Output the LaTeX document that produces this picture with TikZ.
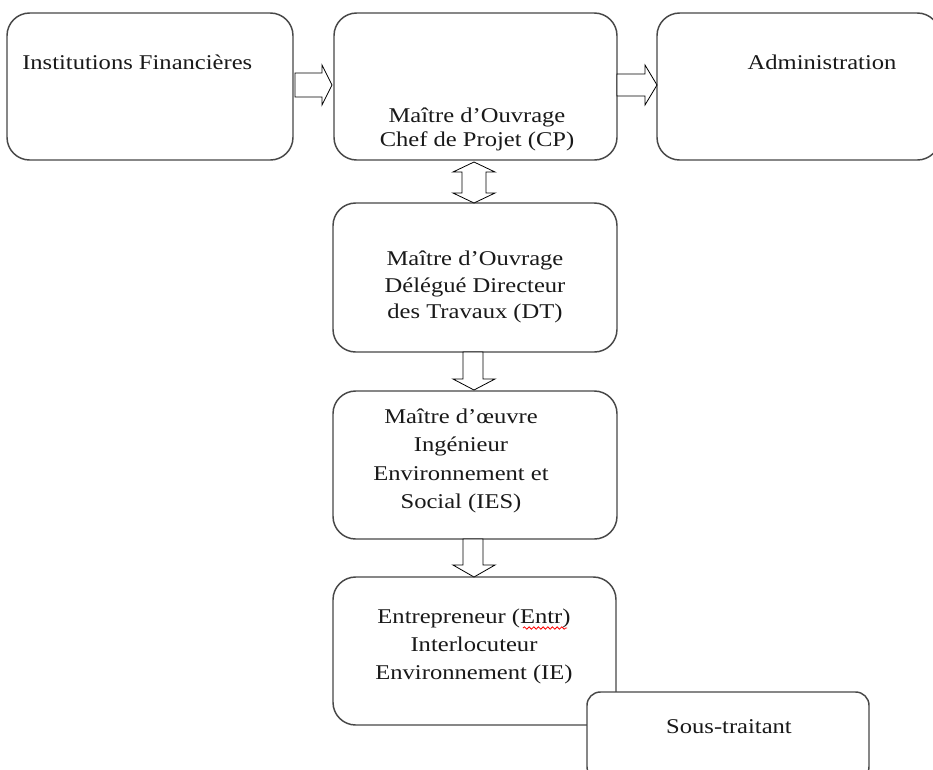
\documentclass[tikz,border=0pt]{standalone}
\usepackage{fontspec}
\newfontfamily\wf[FakeStretch=1.17]{Liberation Serif}
\usetikzlibrary{decorations.pathmorphing}
\begin{document}
\begin{tikzpicture}[x=0.75pt,y=-0.75pt,
  box/.style={draw=black!72, line width=1.1pt, rounded corners=17pt, fill=white, inner sep=0pt},
  sbox/.style={draw=black!72, line width=1.1pt, rounded corners=10pt, fill=white, inner sep=0pt},
  lbl/.style={font=\wf\fontsize{15.75}{20}\selectfont, text=black!90, align=center, inner sep=0pt},
  blk/.style={draw=black, line width=0.6pt, fill=white, line join=miter}]
\useasboundingbox (0,0) rectangle (933,769);
\clip (0,0) rectangle (933,769);
% boxes
\node[box, minimum width=214.5pt, minimum height=110.25pt] (b1) at (150,86.5) {};
\node[box, minimum width=212.25pt, minimum height=110.25pt] (b2) at (475.5,86.5) {};
\node[box, minimum width=212.25pt, minimum height=110.25pt] (b3) at (798.5,86.5) {};
\node[box, minimum width=213pt, minimum height=111.75pt] (dt) at (475,277.5) {};
\node[box, minimum width=213pt, minimum height=111pt] (ies) at (475,465) {};
\node[box, minimum width=212.25pt, minimum height=111pt] (entr) at (474.5,651) {};
\node[sbox, minimum width=211.5pt, minimum height=66pt] (st) at (728,736) {};
% texts
\node[lbl, anchor=west] (t1) at (22,62) {Institutions Financières};
\node[lbl] (t3) at (822,62) {Administration};
\node[lbl, font=\wf\fontsize{15.75}{18}\selectfont] (t2) at (477,129) {Maître d’Ouvrage\\Chef de Projet (CP)};
\node[lbl] (tdt) at (475,287) {Maître d’Ouvrage\\Délégué Directeur\\des Travaux (DT)};
\node[lbl, font=\wf\fontsize{15.75}{21.2}\selectfont] (ties) at (461,461) {Maître d’œuvre\\Ingénieur\\Environnement et\\Social (IES)};
\node[lbl, font=\wf\fontsize{15.75}{21}\selectfont] (tentr) at (474,646) {Entrepreneur (Entr)\\Interlocuteur\\Environnement (IE)};
\node[lbl] (tst) at (729,727) {Sous-traitant};
\draw[red, line width=0.6pt, decorate, decoration={snake, amplitude=0.9pt, segment length=3.5pt}] (523,628) -- (567,628);
% block arrows
\draw[blk] (295,73) -- (322,73) -- (322,65) -- (332,85) -- (322,105) -- (322,97) -- (295,97) -- cycle;
\draw[blk] (617,74) -- (645,74) -- (645,65) -- (657,85) -- (645,105) -- (645,96) -- (617,96) -- cycle;
\draw[blk] (474,162) -- (495,172) -- (486,172) -- (486,193) -- (495,193) -- (474,203) -- (453,193) -- (462,193) -- (462,172) -- (453,172) -- cycle;
\draw[blk] (463,352) -- (483,352) -- (483,379) -- (495,379) -- (474,390) -- (453,379) -- (463,379) -- cycle;
\draw[blk] (463,539) -- (483,539) -- (483,565) -- (495,565) -- (474,577) -- (453,565) -- (463,565) -- cycle;
\end{tikzpicture}
\end{document}
